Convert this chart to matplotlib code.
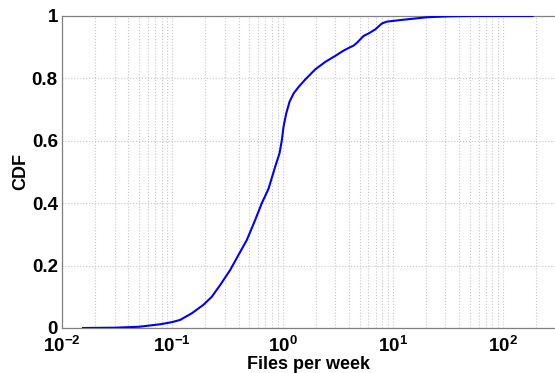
import matplotlib
matplotlib.use("Agg")
import matplotlib.pyplot as plt
from matplotlib.ticker import LogLocator, NullFormatter

plt.rcParams['font.family'] = ['Liberation Sans', 'DejaVu Sans']
plt.rcParams['font.weight'] = 'bold'
plt.rcParams['mathtext.fontset'] = 'custom'
plt.rcParams['mathtext.rm'] = 'Liberation Sans:bold'
plt.rcParams['mathtext.bf'] = 'Liberation Sans:bold'
plt.rcParams['mathtext.it'] = 'Liberation Sans:bold'
plt.rcParams['mathtext.default'] = 'bf'

# Files per week (x) and CDF (y)
files_per_week = [0.0155, 0.03, 0.05, 0.078, 0.10, 0.118, 0.150, 0.191, 0.228, 0.272,
                  0.335, 0.398, 0.474, 0.564, 0.648, 0.745, 0.857, 0.938, 0.986,
                  1.02, 1.08, 1.156, 1.26, 1.40, 1.61, 1.98, 2.44, 3.0, 3.57,
                  4.10, 4.40, 4.72, 5.42, 6.02, 6.92, 7.95, 8.83, 11.7, 20.4, 33.0,
                  50.0, 185.0]
cdf = [0.0, 0.001, 0.004, 0.012, 0.019, 0.026, 0.047, 0.074, 0.10, 0.138,
       0.186, 0.234, 0.282, 0.346, 0.40, 0.446, 0.517, 0.56, 0.603,
       0.645, 0.688, 0.725, 0.752, 0.773, 0.797, 0.829, 0.853, 0.872, 0.889,
       0.900, 0.905, 0.914, 0.936, 0.944, 0.957, 0.976, 0.982, 0.987, 0.996, 0.999,
       1.0, 1.0]

x_ticks = [1e-2, 1e-1, 1e0, 1e1, 1e2]
x_tick_labels = [r'$10^{-2}$', r'$10^{-1}$', r'$10^{0}$', r'$10^{1}$', r'$10^{2}$']
y_ticks = [0, 0.2, 0.4, 0.6, 0.8, 1]
y_tick_labels = ['0', '0.2', '0.4', '0.6', '0.8', '1']

fig = plt.figure(figsize=(5.55, 3.73), dpi=100)
ax = fig.add_axes([62/555, 45/373, 1 - 62/555, 312/373])
ax.plot(files_per_week, cdf, color='#0000ff', linewidth=1.5, zorder=3)
ax.set_xscale('log')
ax.set_xlim(1e-2, 10**2.47)
ax.set_ylim(0, 1)

ax.set_xticks(x_ticks)
ax.set_xticklabels(x_tick_labels)
ax.xaxis.set_minor_locator(LogLocator(base=10, subs=range(2, 10), numticks=20))
ax.xaxis.set_minor_formatter(NullFormatter())
ax.set_yticks(y_ticks)
ax.set_yticklabels(y_tick_labels)

ax.grid(True, which='major', axis='both', color='#c8c8c8', linestyle=':', linewidth=0.8)
ax.grid(True, which='minor', axis='x', color='#c8c8c8', linestyle=':', linewidth=0.8)
ax.set_axisbelow(True)

for side in ['left', 'bottom', 'top']:
    ax.spines[side].set_color('#808080')
    ax.spines[side].set_linewidth(0.9)
ax.spines['right'].set_visible(False)

ax.tick_params(axis='both', which='both', length=0, labelsize=13.5, colors='black')
ax.tick_params(axis='y', pad=3)
ax.tick_params(axis='x', pad=6)
for lbl in ax.get_yticklabels():
    lbl.set_fontweight('bold')

ax.set_xlabel('Files per week', fontsize=13, fontweight='bold', labelpad=0)
ax.set_ylabel('CDF', fontsize=13, fontweight='bold', labelpad=2)

fig.savefig('out.png', dpi=100)
